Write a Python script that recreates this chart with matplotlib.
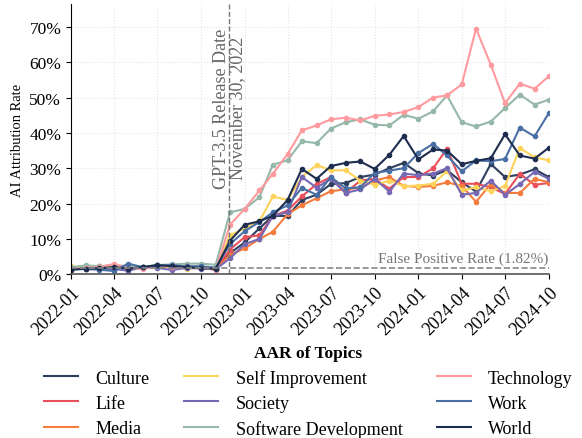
import pandas as pd
import numpy as np
import matplotlib
matplotlib.use('Agg')
import matplotlib.pyplot as plt
import matplotlib.dates as mdates
from matplotlib.lines import Line2D
from matplotlib.ticker import PercentFormatter

plt.rcParams['font.family'] = ['Liberation Serif', 'DejaVu Serif']

months = pd.date_range('2022-01-01', '2024-10-01', freq='MS')

# AI attribution rate (%) per topic, monthly
culture = [1.5, 1.8, 1.8, 2.0, 1.8, 2.0, 2.5, 2.2, 2.0, 2.0, 1.8,
           6.0, 9.0, 13.0, 16.5, 16.5, 21.0, 22.5, 25.5, 25.8, 27.5, 28.2, 30.0,
           31.5, 28.6, 27.9, 29.5, 26.0, 23.4, 31.2, 27.5, 28.2, 29.7, 27.5]
life = [1.6, 1.8, 2.2, 2.5, 1.6, 1.8, 2.0, 2.2, 2.0, 1.8, 1.3,
        7.0, 10.5, 11.0, 16.5, 18.0, 22.0, 25.5, 27.5, 23.0, 26.5, 27.0, 24.2,
        27.5, 27.5, 30.0, 35.5, 25.6, 25.6, 24.6, 22.7, 28.4, 25.3, 25.8]
media = [1.5, 1.7, 1.8, 2.0, 1.7, 1.9, 2.1, 2.0, 2.1, 1.9, 1.4,
         5.5, 7.3, 10.0, 12.0, 17.0, 19.5, 21.5, 23.5, 24.0, 24.5, 26.5, 27.5,
         25.0, 24.7, 25.0, 26.0, 25.0, 20.5, 25.5, 23.0, 23.0, 27.0, 26.0]
self_improvement = [2.2, 1.8, 1.9, 2.0, 1.8, 1.8, 2.4, 2.0, 1.6, 1.8, 1.6,
                    11.0, 13.0, 15.0, 22.0, 21.0, 27.5, 30.9, 29.4, 29.4, 26.5, 25.3, 26.5,
                    24.9, 25.1, 25.6, 29.2, 23.7, 24.6, 23.5, 24.9, 35.7, 33.1, 32.2]
society = [1.5, 1.5, 1.4, 1.5, 1.0, 2.0, 1.8, 1.2, 1.8, 1.6, 1.4,
           4.5, 8.5, 10.0, 16.5, 17.5, 27.5, 24.5, 27.0, 23.0, 24.0, 27.0, 23.4,
           28.5, 28.0, 28.5, 30.0, 22.5, 23.0, 26.5, 22.5, 25.5, 29.0, 27.0]
software_dev = [2.0, 2.5, 2.3, 2.5, 2.3, 2.1, 2.6, 2.8, 3.0, 3.0, 2.7,
                17.5, 18.5, 21.8, 31.0, 32.2, 37.6, 37.1, 41.2, 43.0, 43.8, 42.3, 42.1,
                45.1, 44.0, 46.1, 50.6, 43.0, 41.8, 43.2, 47.0, 50.8, 48.0, 49.4]
technology = [1.5, 1.8, 2.0, 2.9, 1.9, 1.5, 2.3, 2.1, 2.3, 2.0, 1.2,
              14.0, 18.5, 23.7, 28.4, 34.0, 40.7, 42.1, 43.8, 44.3, 43.5, 44.8, 45.2,
              45.9, 47.3, 50.0, 50.6, 53.7, 69.5, 59.3, 48.4, 53.9, 52.5, 56.0]
work = [1.3, 1.5, 1.3, 0.9, 3.0, 2.0, 2.4, 2.6, 2.2, 2.3, 1.8,
        8.5, 12.2, 14.8, 17.5, 19.5, 24.4, 22.5, 27.5, 24.3, 24.6, 28.7, 29.3,
        30.0, 34.3, 36.9, 33.6, 29.1, 32.2, 32.0, 32.6, 41.5, 39.0, 45.6]
world = [1.3, 1.6, 1.7, 2.0, 1.6, 2.0, 2.6, 2.3, 2.0, 1.8, 1.5,
         9.5, 14.0, 15.0, 16.5, 21.0, 29.8, 27.0, 30.6, 31.5, 31.9, 29.8, 33.8,
         39.1, 32.5, 35.3, 35.0, 31.1, 32.1, 32.8, 39.6, 33.6, 32.7, 35.8]

topics = ['Culture', 'Life', 'Media', 'Self Improvement', 'Society',
          'Software Development', 'Technology', 'Work', 'World']
series = [culture, life, media, self_improvement, society,
          software_dev, technology, work, world]
colors = ['#2e3f5e', '#e8505b', '#f47c3c', '#fdd35c', '#7668b4',
          '#95b8a8', '#ff9a9e', '#4a6fa5', '#1c2d4f']

fp_rate = 1.82
release = pd.Timestamp('2022-11-30')

fig = plt.figure(figsize=(5.82, 4.39), dpi=100)
ax = fig.add_axes([0.122, 0.373, 0.821, 0.616])

for name, vals, c in zip(topics, series, colors):
    ax.plot(months, vals, color=c, lw=1.5, marker='o', ms=3, label=name)

ax.axvline(release, color='#777777', ls='--', lw=1)
ax.axhline(fp_rate, color='#888888', ls='--', lw=1.2)
ax.text(release, 69.8, 'GPT-3.5 Release Date\nNovember 30, 2022', rotation=90,
        ha='center', va='top', fontsize=13, color='#666666', linespacing=0.95)
ax.text(months[-1], fp_rate + 0.7, 'False Positive Rate (1.82%)', ha='right',
        va='bottom', fontsize=11, color='#777777')

ax.set_xlim(months[0], months[-1])
ax.set_ylim(0, 76.5)
ax.yaxis.set_major_formatter(PercentFormatter(decimals=0))
ax.set_yticks(np.arange(0, 71, 10))
ax.xaxis.set_major_locator(mdates.MonthLocator(bymonth=[1, 4, 7, 10]))
ax.xaxis.set_major_formatter(mdates.DateFormatter('%Y-%m'))
plt.setp(ax.get_xticklabels(), rotation=45, ha='right', rotation_mode='anchor')
ax.tick_params(axis='x', labelsize=13)
ax.tick_params(axis='y', labelsize=12.5)
ax.set_ylabel('AI Attribution Rate', fontsize=10.5)

ax.grid(True, ls=':', color='#e6e6e6', lw=0.8)
for s in ['top', 'right']:
    ax.spines[s].set_visible(False)
ax.spines['bottom'].set_color('#555555')
ax.spines['bottom'].set_linewidth(1.2)

# legend without markers
handles = [Line2D([], [], color=c, lw=1.5) for c in colors]
leg = ax.legend(handles, topics, loc='upper center', bbox_to_anchor=(0.497, -0.2),
                ncol=3, frameon=False, fontsize=13, title='AAR of Topics',
                title_fontproperties={'weight': 'bold', 'size': 12.5},
                handlelength=1.9, columnspacing=1.9, handletextpad=0.95,
                labelspacing=0.45)

fig.savefig('out.png', dpi=100)
